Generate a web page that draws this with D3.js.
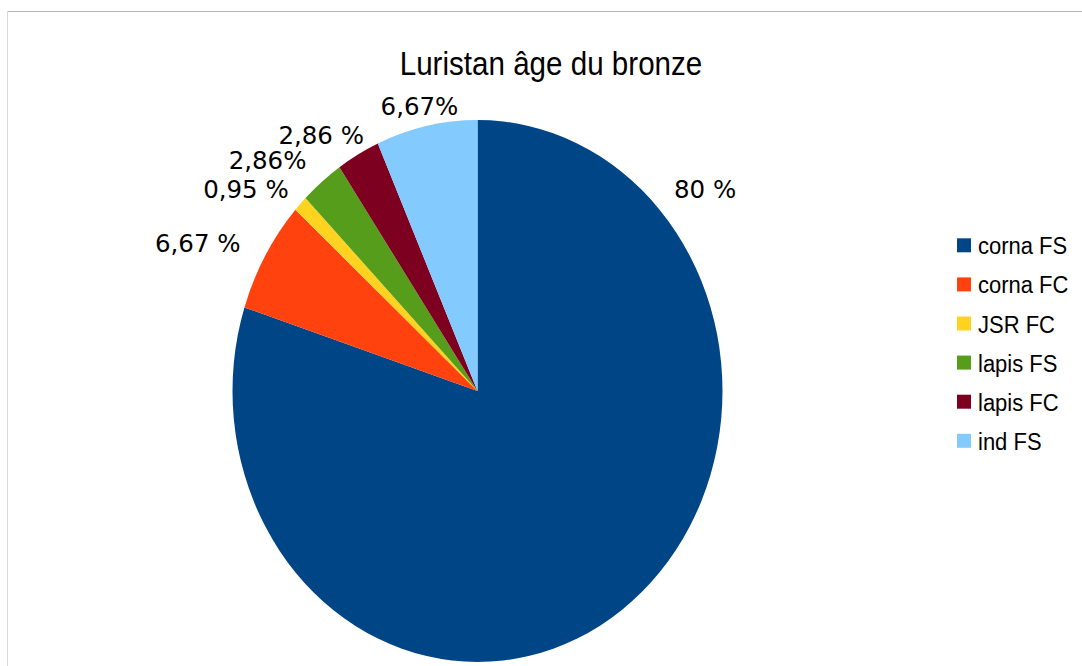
<!DOCTYPE html>
<html>
<head>
<meta charset="utf-8">
<script src="https://cdn.jsdelivr.net/npm/d3@7"></script>
<style>
  html, body { margin: 0; padding: 0; background: #fff; }
  svg { display: block; }
</style>
</head>
<body>
<svg id="chart" width="1082" height="666"></svg>
<script>
// ---- data ----
const categories = ["corna FS", "corna FC", "JSR FC", "lapis FS", "lapis FC", "ind FS"];
const values = [80, 6.67, 0.95, 2.86, 2.86, 6.67];
const valueLabels = ["80 %", "6,67 %", "0,95 %", "2,86%", "2,86 %", "6,67%"];
const colors = ["#004586", "#ff420e", "#ffd320", "#579d1c", "#7e0021", "#83caff"];
const title = "Luristan âge du bronze";

// ---- layout ----
const W = 1082, H = 666;
const cx = 477.5, cy = 391, rx = 245, ry = 271;
const labelAngleOverride = [48.5, null, null, null, null, null]; // degrees, clockwise from top
const labelNudge = [[2, -3], [-12, 5], [-1, 5], [-6, 0], [13, 4], [-4, 5]];
const labelRadius = 1.06;

const svg = d3.select("#chart");

// frame
svg.append("line").attr("x1", 7).attr("x2", W).attr("y1", 11.5).attr("y2", 11.5)
  .attr("stroke", "#b3b3b3").attr("stroke-width", 1);
svg.append("line").attr("x1", 7.5).attr("x2", 7.5).attr("y1", 11).attr("y2", H)
  .attr("stroke", "#d9d9d9").attr("stroke-width", 1);

// title
svg.append("text")
  .attr("transform", "translate(551,75) scale(1,1.12)")
  .attr("text-anchor", "middle")
  .attr("font-family", "Liberation Sans, Arial, sans-serif")
  .attr("font-size", 29.6)
  .attr("fill", "#000")
  .text(title);

// pie
const pie = d3.pie().sort(null).value(d => d)(values);
const arc = d3.arc().innerRadius(0).outerRadius(rx);
const g = svg.append("g").attr("transform", `translate(${cx},${cy}) scale(1,${ry / rx})`);
g.selectAll("path").data(pie).join("path")
  .attr("d", arc)
  .attr("fill", (d, i) => colors[i]);

// labels
const lab = svg.append("g")
  .attr("font-family", "DejaVu Sans, Verdana, sans-serif")
  .attr("font-size", 24.5)
  .attr("fill", "#000");
pie.forEach((d, i) => {
  const a = labelAngleOverride[i] != null ? labelAngleOverride[i] * Math.PI / 180 : (d.startAngle + d.endAngle) / 2;
  const s = Math.sin(a), c = Math.cos(a);
  const x = cx + labelRadius * rx * s + labelNudge[i][0];
  const y = cy - labelRadius * ry * c + labelNudge[i][1];
  const anchor = s < -0.3 ? "end" : (s > 0.3 ? "start" : "middle");
  lab.append("text")
    .attr("transform", `translate(${x},${c > 0 ? y : y + 18}) scale(1,1.04)`)
    .attr("text-anchor", anchor)
    .text(valueLabels[i]);
});

// legend
const leg = svg.append("g");
const legY0 = 245.3, legStep = 39.1;
categories.forEach((name, i) => {
  const yc = legY0 + i * legStep;
  leg.append("rect").attr("x", 957).attr("y", yc - 7).attr("width", 14).attr("height", 14)
    .attr("fill", colors[i]);
  leg.append("text").attr("transform", `translate(978,${yc + 9}) scale(1,1.06)`)
    .attr("font-family", "Liberation Sans, Arial, sans-serif")
    .attr("font-size", 22)
    .attr("fill", "#000")
    .text(name);
});
</script>
</body>
</html>
